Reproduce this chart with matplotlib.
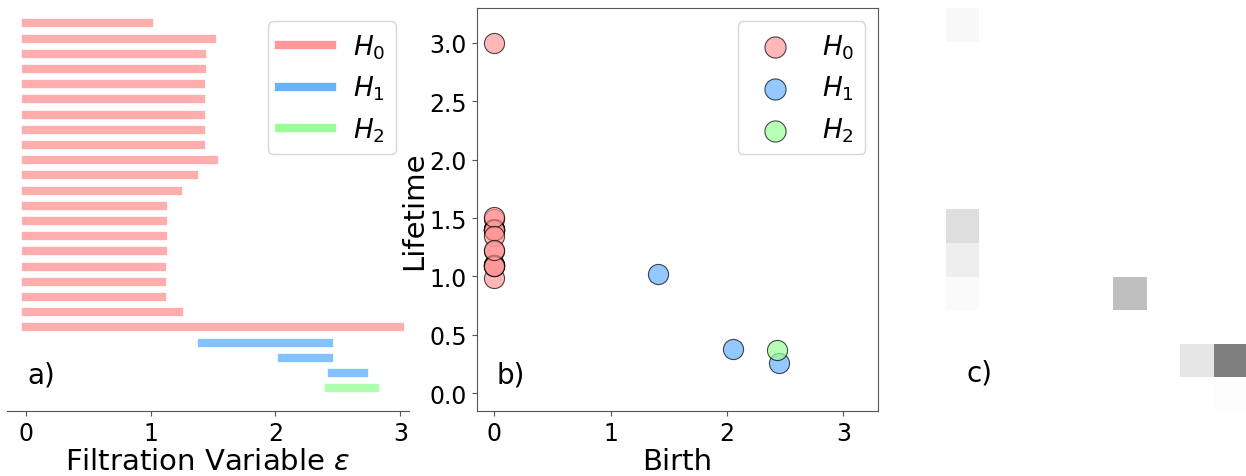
import numpy as np
import matplotlib
matplotlib.use("Agg")
import matplotlib.pyplot as plt
from matplotlib.lines import Line2D

# persistence pairs
H0_birth = [0.0] * 21
H0_death = [0.99, 1.49, 1.41, 1.41, 1.40, 1.40, 1.40, 1.40, 1.40, 1.51, 1.35,
            1.22, 1.10, 1.10, 1.10, 1.10, 1.09, 1.09, 1.09, 1.23, 3.00]
H1_birth = [1.41, 2.05, 2.45]
H1_death = [2.43, 2.43, 2.71]
H2_birth = [2.43]
H2_death = [2.80]

# persistence image (rows = lifetime from top, cols = birth)
IMG_CELLS = [(0, 0, 0.03), (6, 0, 0.13), (7, 0, 0.07), (8, 0, 0.02),
             (8, 5, 0.25), (10, 7, 0.10), (10, 8, 0.50), (11, 8, 0.01)]
IMG_SIZE = 12

C0, C1, C2 = "#ff9999", "#66b3ff", "#99ff99"
LABELS = ["$H_0$", "$H_1$", "$H_2$"]
plt.rcParams["font.family"] = "DejaVu Sans"
TICK_FS, LAB_FS, LEG_FS = 17, 21, 19

W, H = 1246, 477
fig = plt.figure(figsize=(W / 100, H / 100), dpi=100)
def box(x0, y0, x1, y1):
    return [x0 / W, (H - y1) / H, (x1 - x0) / W, (y1 - y0) / H]

# a) barcode
ax = fig.add_axes(box(7, 9.3, 409, 412))
groups = [(H0_birth, H0_death, C0), (H1_birth, H1_death, C1), (H2_birth, H2_death, C2)]
i = 0
for b, d, c in groups:
    for bb, dd in zip(b, d):
        ax.plot([bb, dd], [i, i], color=c, lw=6, alpha=0.8)
        i += 1
ax.set_ylim(25.5, -1)
ax.set_xlim(-0.152, 3.07)
ax.set_yticks([])
ax.set_xticks([0, 1, 2, 3])
for s in ("top", "right", "left"):
    ax.spines[s].set_visible(False)
ax.spines["bottom"].set_color("#555555")
ax.tick_params(labelsize=TICK_FS, colors="#555555", labelcolor="black")
ax.set_xlabel(r"Filtration Variable $\varepsilon$", fontsize=LAB_FS, labelpad=2)
handles = [Line2D([], [], color=c, lw=6) for c in (C0, C1, C2)]
ax.legend(handles, LABELS, loc="upper right", fontsize=LEG_FS)
ax.text(0.05, 0.055, "a)", transform=ax.transAxes, fontsize=20, va="bottom")

# b) persistence diagram
bx = fig.add_axes(box(476.7, 9.3, 878.3, 412))
for b, d, c, lab in zip([H0_birth, H1_birth, H2_birth], [H0_death, H1_death, H2_death],
                        [C0, C1, C2], LABELS):
    life = np.array(d) - np.array(b)
    bx.scatter(b, life, s=210, color=c, edgecolor="k", lw=0.8, alpha=0.7, label=lab, zorder=3)
bx.set_xlim(-0.152, 3.3)
bx.set_ylim(-0.152, 3.296)
bx.set_xticks([0, 1, 2, 3])
bx.set_yticks(np.arange(0, 3.01, 0.5))
for s in bx.spines.values():
    s.set_color("#555555")
bx.tick_params(labelsize=TICK_FS, colors="#555555", labelcolor="black")
bx.set_xlabel("Birth", fontsize=LAB_FS, labelpad=2)
bx.set_ylabel("Lifetime", fontsize=LAB_FS, labelpad=1)
bx.legend(loc="upper right", fontsize=LEG_FS, markerscale=1.05)
bx.text(0.05, 0.055, "b)", transform=bx.transAxes, fontsize=20, va="bottom")

# c) persistence image
cx = fig.add_axes(box(946, 9.3, 1348, 412))
img = np.zeros((IMG_SIZE, IMG_SIZE))
for r, c, v in IMG_CELLS:
    img[r, c] = v
cx.imshow(img, cmap="gray_r", vmin=0, vmax=1, aspect="auto", interpolation="nearest")
cx.axis("off")
fig.text(967 / W, (H - 388) / H, "c)", fontsize=20, va="bottom")

fig.savefig("out.png", dpi=100, facecolor="white")
